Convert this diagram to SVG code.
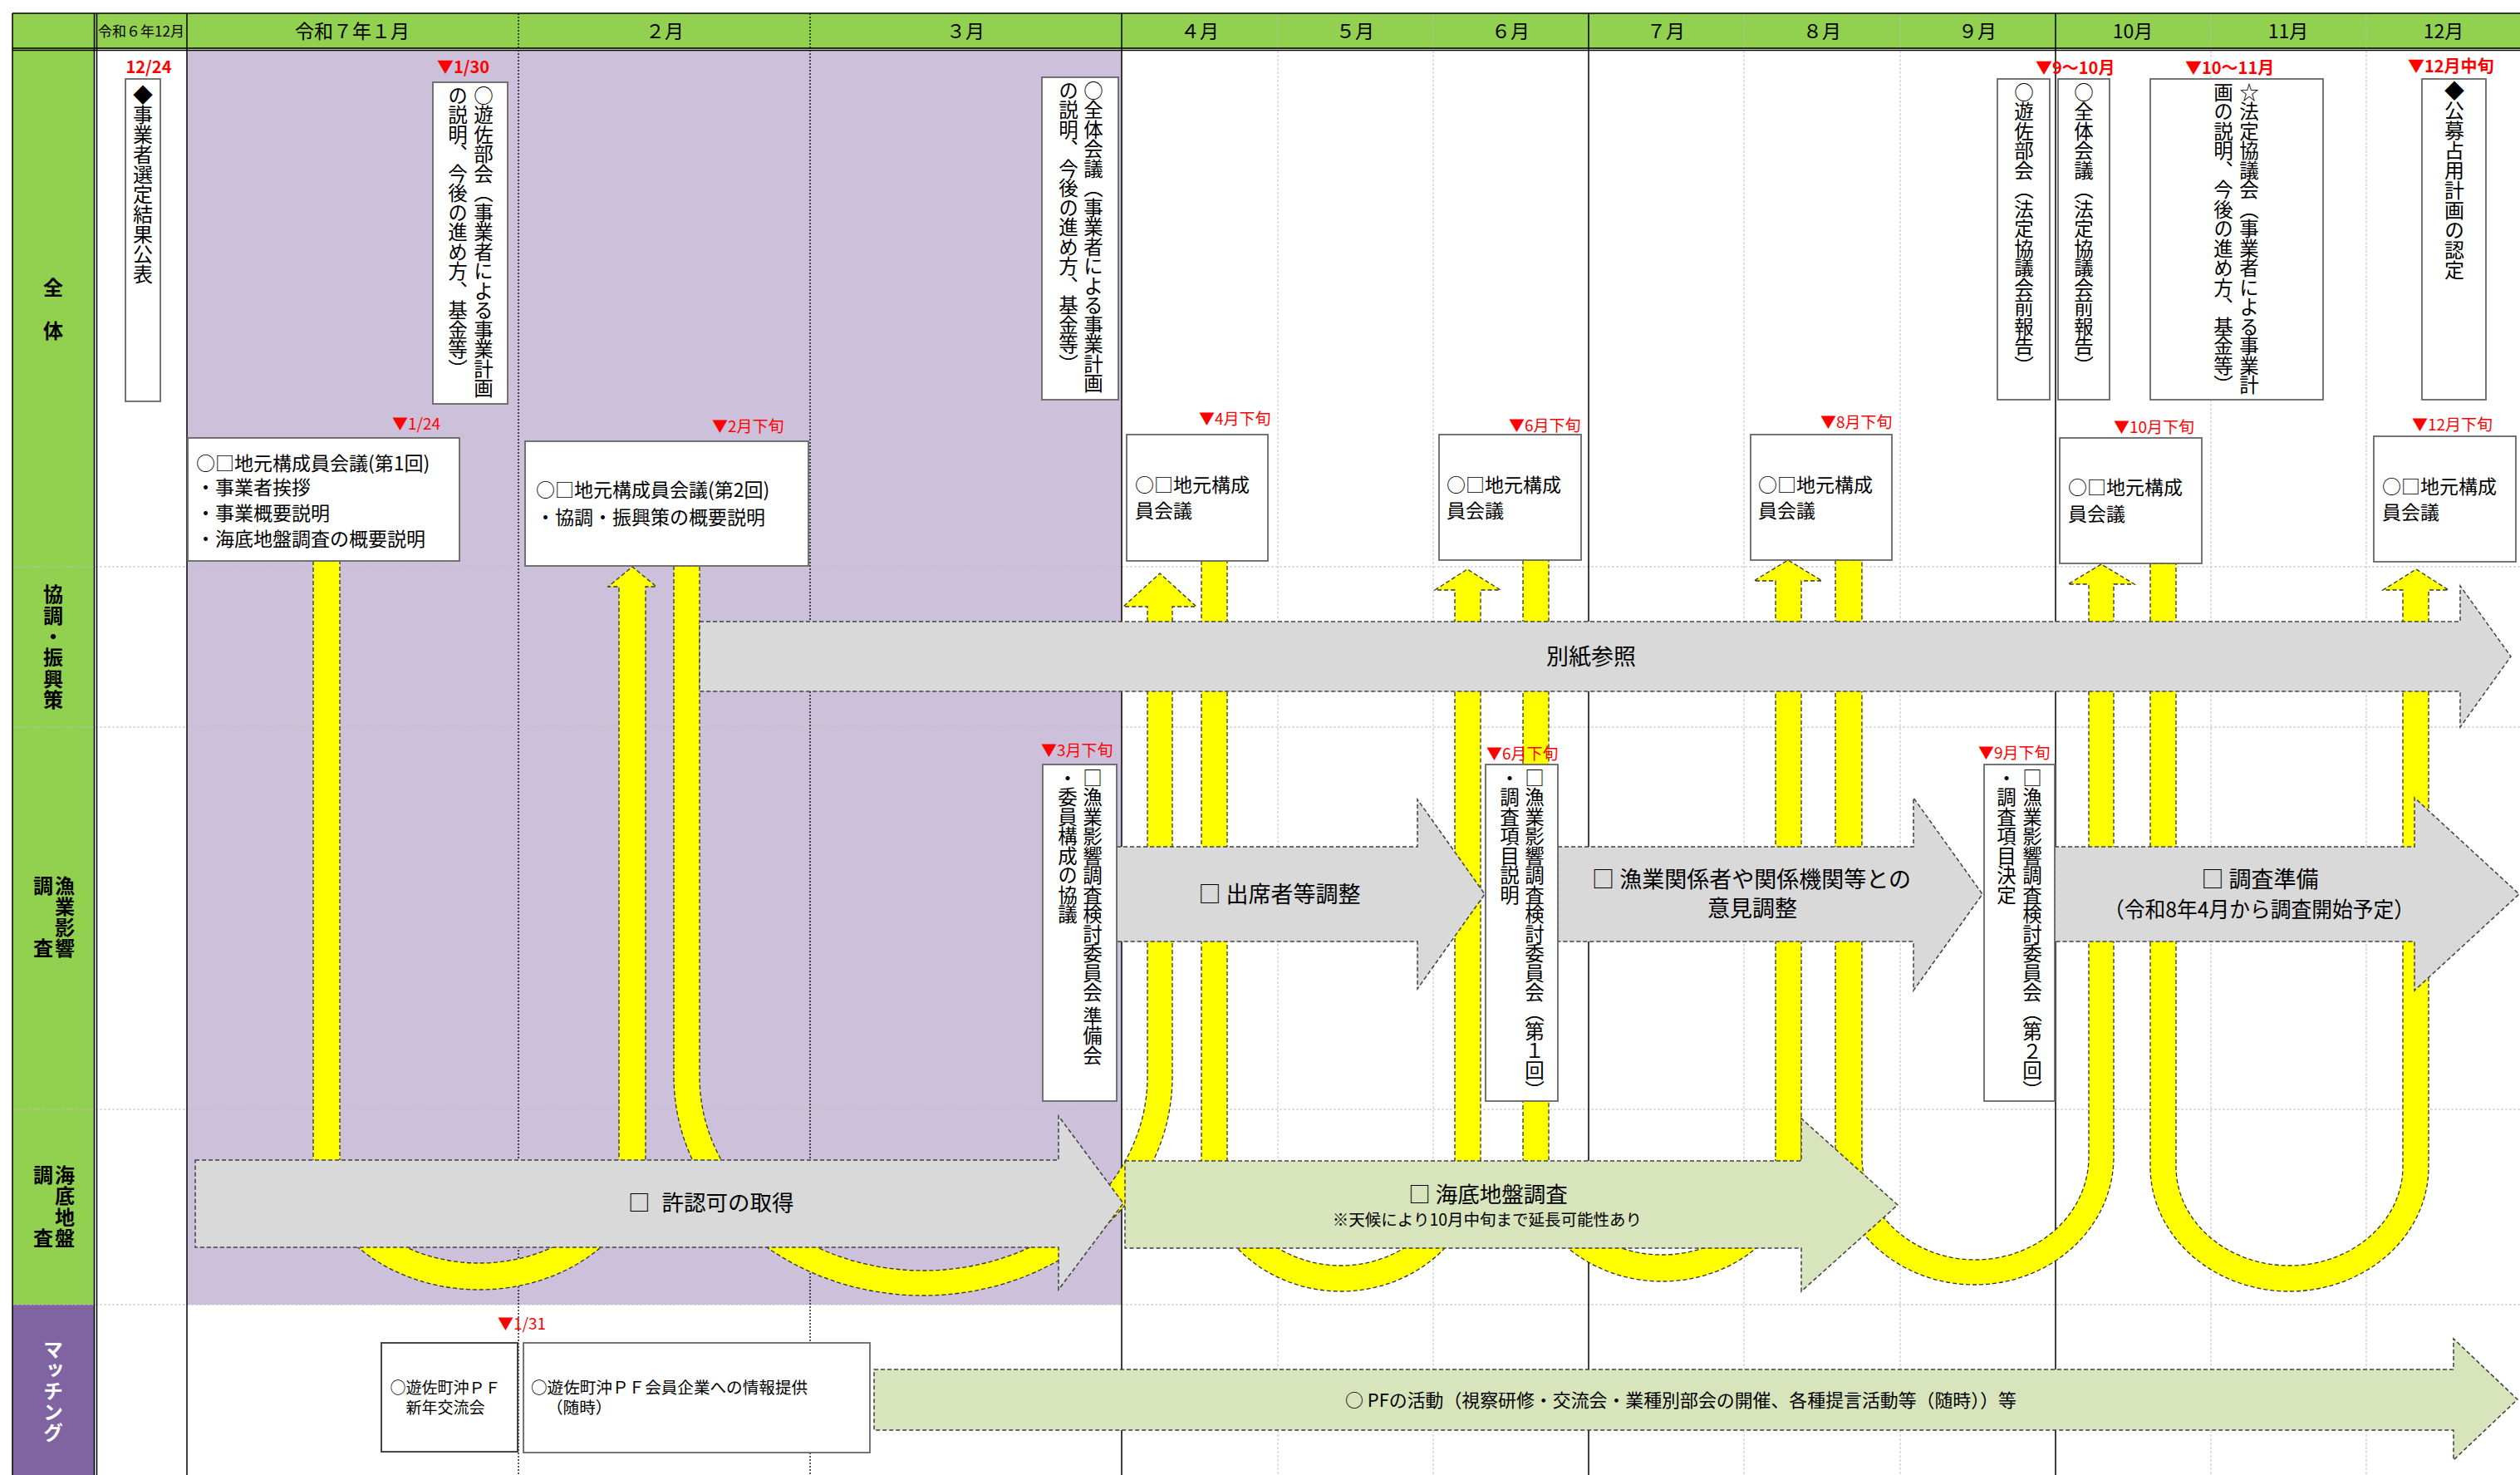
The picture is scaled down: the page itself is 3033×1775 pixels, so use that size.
<svg xmlns="http://www.w3.org/2000/svg" width="3033" height="1775" viewBox="0 0 3033 1775">
<defs>
<style>
text{font-family:"Noto Sans CJK JP","Noto Sans",sans-serif;fill:#000}
.hdr{font-size:23px;text-anchor:middle}
.lane{font-size:24px;font-weight:bold}
.vl{writing-mode:vertical-rl}
.red{fill:#FF0000;font-size:19px}
.redb{fill:#FF0000;font-size:20px;font-weight:bold}
.box{fill:#fff;stroke:#666;stroke-width:1.8}
.vt{font-size:23.5px;writing-mode:vertical-rl}
.bt{font-size:23px}
.at{font-size:27px}
.mid{text-anchor:middle}
.ga{fill:#D9D9D9;stroke:#404040;stroke-width:1.5;stroke-dasharray:5 3}
.gn{fill:#D8E4BC;stroke:#404040;stroke-width:1.5;stroke-dasharray:5 3}
.yl{fill:#FFFF00;stroke:#333;stroke-width:1.3;stroke-dasharray:5 3}
.gl{stroke:#BFBFBF;stroke-width:1;stroke-dasharray:3 2;fill:none}
.bl{stroke:#000;stroke-width:1.5;fill:none}
.bd{stroke:#000;stroke-width:1.3;stroke-dasharray:2 2;fill:none}
</style>
</defs>
<rect x="0" y="0" width="3033" height="1775" fill="#fff"/>
<g id="background">
<rect x="15" y="16" width="3018" height="43" fill="#92D050"/>
<rect x="15" y="59" width="99" height="1511" fill="#92D050"/>
<rect x="15" y="1570" width="99" height="205" fill="#8064A2"/>
<rect x="225" y="60" width="1125" height="1510" fill="#CCC0DA"/>
</g>
<g id="grid">
<path class="gl" d="M15,682H3033M15,875H3033M15,1335H3033M15,1570H3033"/>
<path class="gl" d="M1538,16V1775M1725,16V1775M2099,16V1775M2287,16V1775M2661,16V1775M2848,16V1775"/>
<path class="bd" d="M624,16V1775M975,16V1775"/>
<path class="bl" d="M225,16V1775M1350,16V1775M1912,16V1775M2474,16V1775M15,16V1775M113.5,16V1775M116.5,16V1775"/>
<path class="bl" d="M15,16H3033M15,58H3033M15,60.5H3033"/>
</g>
<g id="header">
<text class="hdr" x="170" y="44" style="font-size:17px">令和６年12月</text>
<text class="hdr" x="424" y="46">令和７年１月</text>
<text class="hdr" x="800" y="46">２月</text>
<text class="hdr" x="1162" y="46">３月</text>
<text class="hdr" x="1444" y="46">４月</text>
<text class="hdr" x="1631" y="46">５月</text>
<text class="hdr" x="1818" y="46">６月</text>
<text class="hdr" x="2005" y="46">７月</text>
<text class="hdr" x="2193" y="46">８月</text>
<text class="hdr" x="2380" y="46">９月</text>
<text class="hdr" x="2567" y="46">10月</text>
<text class="hdr" x="2754" y="46">11月</text>
<text class="hdr" x="2941" y="46">12月</text>
</g>
<g id="lanes">
<text class="lane mid" x="64" y="355">全</text>
<text class="lane mid" x="64" y="407">体</text>
<text class="lane vl" x="64" y="703" style="letter-spacing:1.4px">協調・振興策</text>
<text class="lane vl" x="78" y="1054" style="letter-spacing:1px">漁業影響</text>
<text class="lane mid" x="52" y="1075">調</text>
<text class="lane mid" x="52" y="1150">査</text>
<text class="lane vl" x="78" y="1402" style="letter-spacing:1.3px">海底地盤</text>
<text class="lane mid" x="52" y="1423">調</text>
<text class="lane mid" x="52" y="1499">査</text>
<text class="lane vl" x="64" y="1612" style="letter-spacing:1px;fill:#fff">マッチング</text>
</g>
<g id="connectors">
<path class="yl" d="M377,675 L377,1391 A200,161 0 0 0 777,1391 L777,706 L790,706 L761,682 L732,706 L745,706 L745,1391 A168,129 0 0 1 409,1391 L409,675 Z"/>
<path class="yl" d="M811,681 L811,1296 A300,263 0 0 0 1411,1296 L1411,730 L1440,730 L1396,690 L1352,730 L1381,730 L1381,1296 A269.5,233 0 0 1 842,1296 L842,681 Z"/>
<path class="yl" d="M1446,675 L1446,1397 A168,157 0 0 0 1782,1397 L1782,710 L1806,710 L1766,685 L1727,710 L1751,710 L1751,1397 A137,126 0 0 1 1477,1397 L1477,675 Z"/>
<path class="yl" d="M1833,674 L1833,1390 A167.5,152 0 0 0 2168,1390 L2168,699 L2193,699 L2152,674 L2111,699 L2137,699 L2137,1390 A136.5,120 0 0 1 1864,1390 L1864,674 Z"/>
<path class="yl" d="M2209,674 L2209,1392 A167.5,154 0 0 0 2544,1392 L2544,703 L2569,703 L2529,679 L2489,703 L2514,703 L2514,1392 A136.5,124 0 0 1 2241,1392 L2241,674 Z"/>
<path class="yl" d="M2588,678 L2588,1404 A167.5,150 0 0 0 2923,1404 L2923,710 L2947,710 L2908,685 L2868,710 L2892,710 L2892,1404 A136.5,119 0 0 1 2619,1404 L2619,678 Z"/>
</g>
<g id="arrow-besshi">
<path class="ga" d="M842,748 L2961,748 L2961,705 L3022,790 L2961,875 L2961,832 L842,832 Z"/>
<text class="at mid" x="1915" y="800">別紙参照</text>
</g>
<g id="arrow-shusseki">
<path class="ga" d="M1344,1019 L1706,1019 L1706,962 L1787,1076 L1706,1190 L1706,1133 L1344,1133 Z"/>
<text class="at mid" x="1540" y="1086">□ 出席者等調整</text>
</g>
<g id="arrow-iken">
<path class="ga" d="M1875,1019 L2303,1019 L2303,960 L2386,1076 L2303,1192 L2303,1133 L1875,1133 Z"/>
<text class="at mid" x="2108" y="1068">□ 漁業関係者や関係機関等との</text>
<text class="at mid" x="2109" y="1103">意見調整</text>
</g>
<g id="arrow-junbi">
<path class="ga" d="M2473,1019 L2906,1019 L2906,960 L3032,1076 L2906,1192 L2906,1133 L2473,1133 Z"/>
<text class="at mid" x="2720" y="1068">□ 調査準備</text>
<text class="at mid" x="2719" y="1104" style="font-size:26px" textLength="374" lengthAdjust="spacingAndGlyphs">（令和8年4月から調査開始予定）</text>
</g>
<g id="arrow-kyoninka">
<path class="ga" d="M235,1396 L1274,1396 L1274,1343 L1352,1448 L1274,1552 L1274,1501 L235,1501 Z"/>
<text class="at" x="756" y="1457" style="font-size:26.5px">□<tspan dx="14">許認可の取得</tspan></text>
</g>
<g id="arrow-kaitei">
<path class="gn" d="M1354,1397 L2168,1397 L2168,1346 L2284,1450 L2168,1554 L2168,1502 L1354,1502 Z"/>
<text class="at mid" x="1791" y="1447" style="font-size:26.5px">□ 海底地盤調査</text>
<text class="mid" x="1790" y="1475" style="font-size:19.5px">※天候により10月中旬まで延長可能性あり</text>
</g>
<g id="arrow-pf">
<path class="gn" d="M1052,1648 L2953,1648 L2953,1611 L3030,1684 L2953,1757 L2953,1721 L1052,1721 Z"/>
<text x="1619" y="1693" style="font-size:22px" textLength="808" lengthAdjust="spacingAndGlyphs">○ PFの活動（視察研修・交流会・業種別部会の開催、各種提言活動等（随時））等</text>
</g>
<g id="node-1224">
<text class="redb mid" x="179" y="88">12/24</text>
<rect class="box" x="151" y="95" width="42" height="388"/>
<text class="vt" x="172" y="102" style="font-size:24px">◆事業者選定結果公表</text>
</g>
<g id="node-0130">
<text class="redb" x="526" y="88">▼1/30</text>
<rect class="box" x="521" y="99" width="90" height="387"/>
<text class="vt" x="582" y="103">○遊佐部会（事業者による事業計画</text>
<text class="vt" x="551" y="103">の説明、今後の進め方、基金等）</text>
</g>
<g id="node-zentai-mar">
<rect class="box" x="1254" y="93" width="92" height="388"/>
<text class="vt" x="1316" y="97">○全体会議（事業者による事業計画</text>
<text class="vt" x="1286" y="97">の説明、今後の進め方、基金等）</text>
</g>
<g id="node-yuza-sep">
<text class="redb" x="2450" y="89">▼9～10月</text>
<rect class="box" x="2404" y="95" width="63" height="386"/>
<text class="vt" x="2436" y="99">○遊佐部会（法定協議会前報告）</text>
</g>
<g id="node-zentai-oct">
<rect class="box" x="2477" y="95" width="62" height="386"/>
<text class="vt" x="2508" y="99">○全体会議（法定協議会前報告）</text>
</g>
<g id="node-houtei">
<text class="redb" x="2630" y="89">▼10～11月</text>
<rect class="box" x="2588" y="95" width="208" height="386"/>
<text class="vt" x="2707" y="99">☆法定協議会（事業者による事業計</text>
<text class="vt" x="2676" y="99">画の説明、今後の進め方、基金等）</text>
</g>
<g id="node-koubo">
<text class="redb" x="2898" y="87">▼12月中旬</text>
<rect class="box" x="2915" y="95" width="77" height="386"/>
<text class="vt" x="2954" y="97" style="font-size:24px">◆公募占用計画の認定</text>
</g>
<g id="node-m1">
<text class="red" x="472" y="517">▼1/24</text>
<rect class="box" x="226" y="527" width="327" height="148"/>
<text class="bt" x="236" y="566">○□地元構成員会議(第1回)</text>
<text class="bt" x="236" y="595">・事業者挨拶</text>
<text class="bt" x="236" y="626">・事業概要説明</text>
<text class="bt" x="236" y="657">・海底地盤調査の概要説明</text>
</g>
<g id="node-m2">
<text class="red" x="857" y="520">▼2月下旬</text>
<rect class="box" x="632" y="531" width="341" height="150"/>
<text class="bt" x="645" y="598">○□地元構成員会議(第2回)</text>
<text class="bt" x="645" y="631">・協調・振興策の概要説明</text>
</g>
<g id="node-m4">
<text class="red" x="1443" y="511">▼4月下旬</text>
<rect class="box" x="1356" y="523" width="170" height="152"/>
<text class="bt" x="1366" y="592">○□地元構成</text>
<text class="bt" x="1366" y="623">員会議</text>
</g>
<g id="node-m6">
<text class="red" x="1816" y="519">▼6月下旬</text>
<rect class="box" x="1732" y="523" width="171" height="151"/>
<text class="bt" x="1741" y="592">○□地元構成</text>
<text class="bt" x="1741" y="623">員会議</text>
</g>
<g id="node-m8">
<text class="red" x="2191" y="515">▼8月下旬</text>
<rect class="box" x="2107" y="523" width="170" height="151"/>
<text class="bt" x="2116" y="592">○□地元構成</text>
<text class="bt" x="2116" y="623">員会議</text>
</g>
<g id="node-m10">
<text class="red" x="2544" y="521">▼10月下旬</text>
<rect class="box" x="2479" y="527" width="171" height="151"/>
<text class="bt" x="2489" y="595">○□地元構成</text>
<text class="bt" x="2489" y="627">員会議</text>
</g>
<g id="node-m12">
<text class="red" x="2903" y="518">▼12月下旬</text>
<rect class="box" x="2857" y="525" width="171" height="151"/>
<text class="bt" x="2867" y="594">○□地元構成</text>
<text class="bt" x="2867" y="625">員会議</text>
</g>
<g id="node-f3">
<text class="red" x="1253" y="910">▼3月下旬</text>
<rect class="box" x="1255" y="920" width="89" height="405"/>
<text class="vt" x="1315" y="924">□漁業影響調査検討委員会 準備会</text>
<text class="vt" x="1285" y="924">・委員構成の協議</text>
</g>
<g id="node-f6">
<text class="red" x="1789" y="914">▼6月下旬</text>
<rect class="box" x="1788" y="920" width="87" height="405"/>
<text class="vt" x="1847" y="924">□漁業影響調査検討委員会（第１回）</text>
<text class="vt" x="1817" y="924">・調査項目説明</text>
</g>
<g id="node-f9">
<text class="red" x="2381" y="913">▼9月下旬</text>
<rect class="box" x="2388" y="920" width="85" height="405"/>
<text class="vt" x="2446" y="924">□漁業影響調査検討委員会（第２回）</text>
<text class="vt" x="2415" y="924">・調査項目決定</text>
</g>
<g id="node-p1">
<text class="red" x="599" y="1600">▼1/31</text>
<rect class="box" x="459" y="1616" width="164" height="131" style="stroke:#333"/>
<text class="mid" x="536" y="1677" style="font-size:19px">○遊佐町沖ＰＦ</text>
<text class="mid" x="536" y="1701" style="font-size:19px">新年交流会</text>
</g>
<g id="node-p2">
<rect class="box" x="630" y="1616" width="417" height="132"/>
<text x="639" y="1677" style="font-size:19.6px">○遊佐町沖ＰＦ会員企業への情報提供</text>
<text x="658" y="1701" style="font-size:19.6px">（随時）</text>
</g>
</svg>
